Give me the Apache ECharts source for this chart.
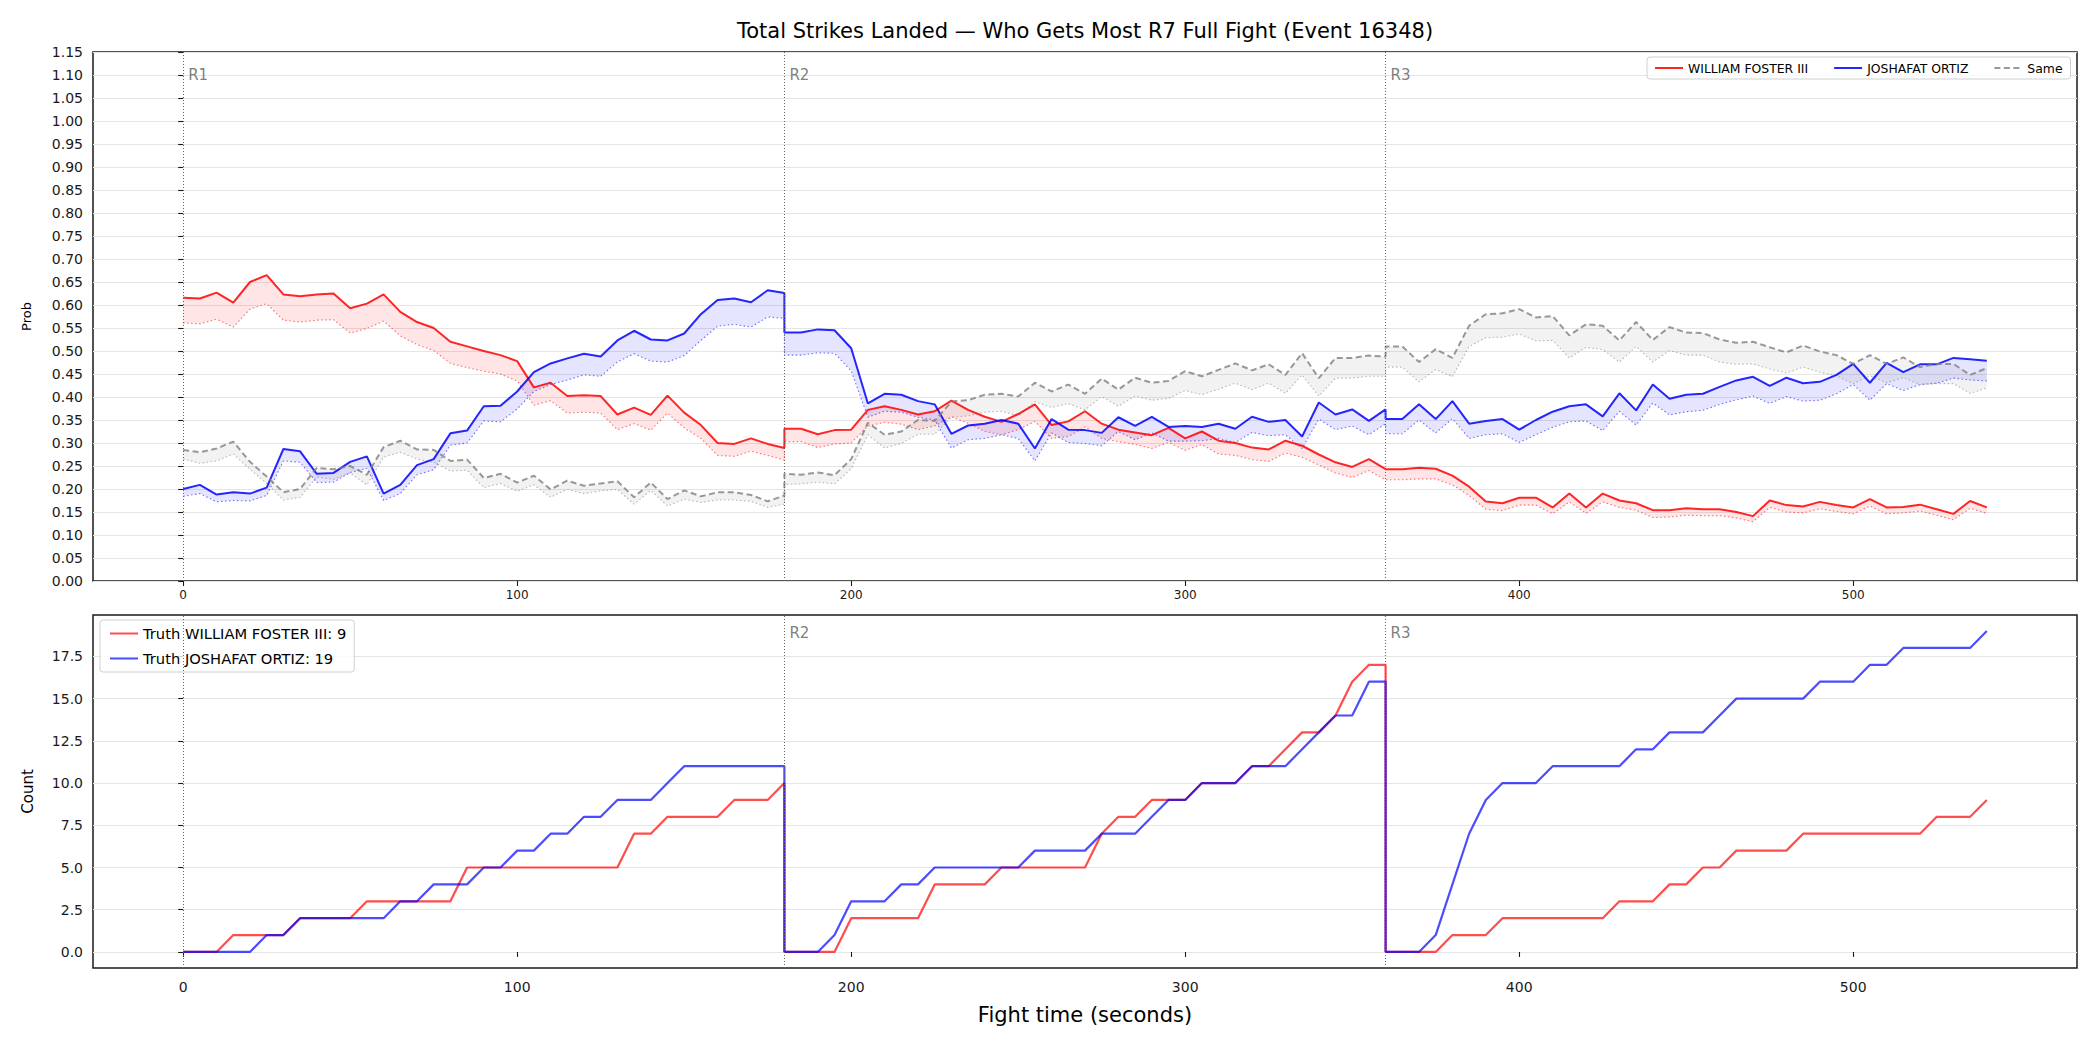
<!DOCTYPE html>
<html><head><meta charset="utf-8">
<script src="https://cdn.jsdelivr.net/npm/echarts@6/dist/echarts.min.js"></script>
<style>html,body{margin:0;padding:0;background:#fff}#c{width:2100px;height:1050px}</style>
</head><body><div id="c"></div>
<script>
// ---------- data ----------
const fighters = ['WILLIAM FOSTER III', 'JOSHAFAT ORTIZ'];
const roundStarts = [0, 180, 360];
const roundNames = ['R1', 'R2', 'R3'];
const secondsInRound = [0,5,10,15,20,25,30,35,40,45,50,55,60,65,70,75,80,85,90,95,100,105,110,115,120,125,130,135,140,145,150,155,160,165,170,175,180];
const xTicks = [0, 100, 200, 300, 400, 500];
const countTicks = [0, 2.5, 5, 7.5, 10, 12.5, 15, 17.5];

// probability (solid) and lower bound (dotted), R1 | R2 | R3
const fosterProb = [
 .616,.614,.627,.605,.650,.665,.623,.619,.623,.625,.593,.603,.623,.585,.563,.550,.520,.510,.500,.491,.478,.421,.431,.402,.404,.402,.362,.377,.361,.403,.366,.339,.300,.298,.310,.298,.289,
 .331,.331,.319,.328,.329,.372,.380,.372,.362,.369,.392,.372,.357,.346,.363,.384,.339,.347,.369,.342,.329,.323,.317,.333,.310,.325,.305,.300,.290,.286,.305,.294,.275,.258,.248,.265,.243,
 .243,.243,.246,.244,.229,.205,.173,.169,.181,.181,.160,.190,.160,.190,.175,.169,.154,.154,.158,.156,.156,.150,.141,.175,.165,.162,.172,.165,.160,.178,.160,.161,.166,.156,.146,.174,.160];
const fosterLow = [
 .561,.559,.569,.552,.591,.603,.567,.563,.567,.568,.539,.549,.565,.533,.514,.501,.473,.464,.456,.450,.435,.382,.392,.365,.367,.365,.329,.342,.328,.365,.333,.310,.273,.271,.282,.273,.263,
 .303,.303,.290,.298,.300,.337,.345,.341,.329,.337,.357,.343,.325,.318,.329,.347,.310,.314,.335,.310,.303,.297,.288,.301,.284,.297,.276,.273,.264,.260,.278,.269,.252,.235,.225,.240,.220,
 .220,.220,.222,.222,.209,.186,.156,.153,.165,.165,.146,.172,.147,.172,.160,.154,.138,.139,.143,.142,.142,.137,.129,.160,.150,.148,.157,.151,.146,.163,.146,.148,.152,.143,.133,.158,.147];
const ortizProb = [
 .200,.209,.188,.193,.190,.203,.287,.282,.233,.235,.259,.271,.190,.209,.252,.265,.321,.327,.380,.381,.412,.454,.473,.484,.494,.488,.523,.544,.525,.523,.538,.580,.611,.614,.606,.632,.626,
 .540,.540,.547,.545,.506,.386,.407,.405,.391,.384,.320,.338,.342,.350,.342,.288,.352,.329,.328,.322,.356,.337,.357,.335,.337,.335,.342,.331,.357,.346,.350,.314,.388,.362,.373,.348,.373,
 .352,.352,.384,.352,.391,.342,.348,.352,.329,.350,.368,.380,.384,.358,.408,.371,.427,.396,.405,.407,.422,.436,.444,.424,.442,.430,.433,.448,.472,.431,.474,.454,.471,.471,.485,.482,.479];
const ortizLow = [
 .184,.190,.172,.175,.174,.186,.261,.258,.214,.215,.236,.245,.175,.190,.231,.242,.295,.300,.348,.346,.374,.412,.427,.437,.448,.445,.476,.494,.478,.476,.490,.523,.554,.558,.552,.574,.571,
 .491,.491,.496,.495,.457,.356,.369,.367,.356,.350,.289,.307,.310,.318,.310,.261,.322,.301,.299,.294,.325,.307,.322,.304,.304,.305,.310,.301,.323,.316,.318,.288,.352,.329,.337,.318,.342,
 .320,.320,.350,.322,.353,.310,.318,.320,.301,.318,.334,.346,.348,.327,.369,.339,.387,.361,.368,.371,.384,.394,.402,.386,.401,.391,.393,.407,.427,.393,.429,.414,.427,.430,.441,.437,.435];
const sameProb = [
 .285,.280,.288,.303,.259,.227,.193,.200,.246,.243,.250,.231,.291,.305,.286,.285,.261,.264,.224,.233,.214,.229,.199,.218,.207,.212,.217,.182,.214,.178,.197,.184,.193,.193,.187,.173,.186,
 .233,.231,.236,.230,.265,.344,.318,.325,.350,.348,.390,.393,.405,.407,.401,.431,.412,.427,.407,.440,.416,.442,.431,.435,.456,.445,.459,.473,.458,.471,.448,.495,.441,.485,.485,.490,.488,
 .510,.510,.476,.504,.485,.555,.580,.582,.591,.573,.576,.534,.558,.555,.523,.563,.524,.552,.540,.539,.525,.518,.520,.508,.497,.512,.499,.491,.472,.491,.472,.486,.465,.472,.472,.448,.463];
const sameLow = [
 .265,.256,.261,.276,.243,.212,.176,.182,.226,.221,.235,.209,.269,.280,.265,.258,.239,.241,.203,.212,.195,.209,.182,.199,.190,.196,.199,.167,.197,.163,.178,.171,.176,.176,.173,.160,.167,
 .210,.211,.215,.211,.244,.318,.289,.299,.319,.319,.356,.359,.367,.369,.359,.390,.377,.386,.372,.401,.380,.402,.393,.397,.414,.405,.417,.430,.416,.430,.408,.448,.402,.441,.441,.445,.445,
 .465,.465,.433,.460,.444,.510,.529,.530,.537,.522,.523,.485,.508,.503,.476,.510,.476,.501,.491,.491,.476,.471,.472,.461,.452,.465,.454,.446,.429,.446,.431,.442,.427,.429,.429,.408,.420];

// cumulative truth counts per round, R1 | R2 | R3
const fosterCount = [
 0,0,0,1,1,1,1,2,2,2,2,3,3,3,3,3,3,5,5,5,5,5,5,5,5,5,5,7,7,8,8,8,8,9,9,9,10,
 0,0,0,0,2,2,2,2,2,4,4,4,4,5,5,5,5,5,5,7,8,8,9,9,9,10,10,10,11,11,12,13,13,14,16,17,17,
 0,0,0,0,1,1,1,2,2,2,2,2,2,2,3,3,3,4,4,5,5,6,6,6,6,7,7,7,7,7,7,7,7,8,8,8,9];
const ortizCount = [
 0,0,0,0,0,1,1,2,2,2,2,2,2,3,3,4,4,4,5,5,6,6,7,7,8,8,9,9,9,10,11,11,11,11,11,11,11,
 0,0,0,1,3,3,3,4,4,5,5,5,5,5,5,6,6,6,6,7,7,7,8,9,9,10,10,10,11,11,11,12,13,14,14,16,16,
 0,0,0,1,4,7,9,10,10,10,11,11,11,11,11,12,12,13,13,13,14,15,15,15,15,15,16,16,16,17,17,18,18,18,18,18,19];

// ---------- build ----------
const fightTime = [];
roundStarts.forEach(r => secondsInRound.forEach(s => fightTime.push(r + s)));
const pts = arr => fightTime.map((t, i) => [t, arr[i]]);

const FONT = 'DejaVu Sans';
const RED = 'rgba(255,0,0,0.85)', BLUE = 'rgba(0,0,255,0.85)', GREY = 'rgba(128,128,128,0.8)';
const truthNames = [
  'Truth ' + fighters[0] + ': ' + fosterCount[fosterCount.length - 1],
  'Truth ' + fighters[1] + ': ' + ortizCount[ortizCount.length - 1]
];

// shaded band between the probability line and its lower bound, drawn through the axis scales
function bandFill(hi, lo, fill) {
  return {
    type: 'custom', xAxisIndex: 0, yAxisIndex: 0, silent: true, z: 1,
    data: fightTime.map((t, i) => [t, hi[i], lo[i]]),
    encode: { x: 0, y: [1, 2] },
    renderItem: (params, api) => {
      if (params.dataIndex !== 0) return null;
      const upper = fightTime.map((t, i) => api.coord([t, hi[i]]));
      const lower = fightTime.map((t, i) => api.coord([t, lo[i]])).reverse();
      return { type: 'polygon', silent: true, shape: { points: upper.concat(lower) }, style: { fill: fill, stroke: null } };
    }
  };
}
function band(key, hi, lo, solidName, color, lowColor, fill, dashed) {
  return [
    bandFill(hi, lo, fill),
    { name: key + '-low', type: 'line', data: pts(lo), symbol: 'none',
      lineStyle: { color: lowColor, width: 1.1, type: [1.5, 2.5] }, z: 2 },
    { name: solidName, type: 'line', data: pts(hi), symbol: 'none',
      itemStyle: { color: color },
      lineStyle: { color: color, width: 2, type: dashed ? [6, 3.5] : 'solid' }, z: 3 }
  ];
}

const roundLine = () => ({
  silent: true, symbol: 'none',
  lineStyle: { color: '#666', width: 1, type: [1, 2] },
  label: { show: false },
  data: roundStarts.map(x => ({ xAxis: x }))
});
const roundLabels = (xi, yPos, from) => ({
  type: 'scatter', xAxisIndex: xi, yAxisIndex: xi, symbolSize: 0, silent: true, z: 1,
  itemStyle: { color: '#5c5c5c' },
  data: roundStarts.map((x, i) => ({ name: roundNames[i], value: [x, yPos] })).slice(from),
  label: { show: true, position: 'right', distance: 5, formatter: '{b}', color: '#5c5c5c', fontSize: 15, fontFamily: FONT }
});

const axisCommon = {
  axisLine: { show: false },
  axisTick: { show: true, length: 5, lineStyle: { color: '#1a1a1a', width: 1.1 } },
  axisLabel: { color: '#1a1a1a', fontFamily: FONT, fontSize: 14 }
};

const series = [
  ...band('foster', fosterProb, fosterLow, fighters[0], RED, 'rgba(255,0,0,0.55)', 'rgba(255,0,0,0.1)', false),
  ...band('ortiz', ortizProb, ortizLow, fighters[1], BLUE, 'rgba(0,0,255,0.55)', 'rgba(0,0,255,0.1)', false),
  ...band('same', sameProb, sameLow, 'Same', GREY, 'rgba(128,128,128,0.55)', 'rgba(128,128,128,0.1)', true),
  roundLabels(0, 1.10, 0),
  { name: truthNames[0], type: 'line', xAxisIndex: 1, yAxisIndex: 1, data: pts(fosterCount), symbol: 'none',
    itemStyle: { color: 'rgba(255,0,0,0.7)' }, lineStyle: { color: 'rgba(255,0,0,0.7)', width: 2.2 }, z: 3,
    markLine: roundLine() },
  { name: truthNames[1], type: 'line', xAxisIndex: 1, yAxisIndex: 1, data: pts(ortizCount), symbol: 'none',
    itemStyle: { color: 'rgba(0,0,255,0.7)' }, lineStyle: { color: 'rgba(0,0,255,0.7)', width: 2.2 }, z: 3 },
  roundLabels(1, 18.9, 1)
];
series[1].markLine = roundLine();

const chart = echarts.init(document.getElementById('c'), null, { renderer: 'svg', width: 2100, height: 1050 });
chart.setOption({
  animation: false,
  backgroundColor: '#fff',
  textStyle: { fontFamily: FONT },
  title: {
    text: 'Total Strikes Landed — Who Gets Most R7 Full Fight (Event 16348)',
    left: 1085, top: 20, textAlign: 'center', padding: 0,
    textStyle: { fontFamily: FONT, fontSize: 21, fontWeight: 'normal', color: '#000' }
  },
  legend: [
    { data: fighters.concat(['Same']), orient: 'horizontal', left: 1647, top: 57,
      itemWidth: 28, itemHeight: 10, itemGap: 25, padding: [5, 8, 5, 7],
      itemStyle: { opacity: 0 },
      backgroundColor: 'rgba(255,255,255,0.8)', borderColor: '#d0d0d0', borderWidth: 1, borderRadius: 3,
      textStyle: { fontFamily: FONT, fontSize: 12.4, color: '#000' } },
    { data: truthNames, orient: 'vertical', left: 100, top: 620,
      itemWidth: 28, itemHeight: 12, itemGap: 10, padding: [6, 8, 6, 9],
      itemStyle: { opacity: 0 },
      backgroundColor: 'rgba(255,255,255,0.8)', borderColor: '#d0d0d0', borderWidth: 1, borderRadius: 3,
      textStyle: { fontFamily: FONT, fontSize: 14.7, color: '#000' } }
  ],
  grid: [
    { left: 93, right: 23, top: 52, height: 529, show: true, borderColor: '#1a1a1a', borderWidth: 1.5, backgroundColor: 'transparent' },
    { left: 93, right: 23, top: 615, height: 353, show: true, borderColor: '#1a1a1a', borderWidth: 1.5, backgroundColor: 'transparent' }
  ],
  xAxis: [
    { type: 'value', gridIndex: 0, min: -27, max: 567, ...axisCommon,
      axisTick: { ...axisCommon.axisTick, customValues: xTicks },
      axisLabel: { ...axisCommon.axisLabel, fontSize: 12, margin: 8, customValues: xTicks },
      splitLine: { show: false } },
    { type: 'value', gridIndex: 1, min: -27, max: 567, ...axisCommon,
      axisTick: { ...axisCommon.axisTick, customValues: xTicks },
      axisLabel: { ...axisCommon.axisLabel, fontSize: 14, margin: 12, customValues: xTicks },
      splitLine: { show: false },
      name: 'Fight time (seconds)', nameLocation: 'middle', nameGap: 36,
      nameTextStyle: { fontFamily: FONT, fontSize: 21, color: '#000' } }
  ],
  yAxis: [
    { type: 'value', gridIndex: 0, min: 0, max: 1.15, interval: 0.05, ...axisCommon,
      axisLabel: { ...axisCommon.axisLabel, margin: 10, formatter: v => v.toFixed(2) },
      splitLine: { show: true, lineStyle: { color: '#e5e5e5', width: 1 } },
      name: 'Prob', nameLocation: 'middle', nameGap: 60,
      nameTextStyle: { fontFamily: FONT, fontSize: 13, color: '#000' } },
    { type: 'value', gridIndex: 1, min: -0.95, max: 19.95, ...axisCommon,
      axisTick: { ...axisCommon.axisTick, customValues: countTicks },
      axisLabel: { ...axisCommon.axisLabel, margin: 10, customValues: countTicks, formatter: v => v.toFixed(1) },
      splitLine: { show: true, lineStyle: { color: '#e5e5e5', width: 1 } },
      name: 'Count', nameLocation: 'middle', nameGap: 58,
      nameTextStyle: { fontFamily: FONT, fontSize: 15, color: '#000' } }
  ],
  series: series
});
</script></body></html>
